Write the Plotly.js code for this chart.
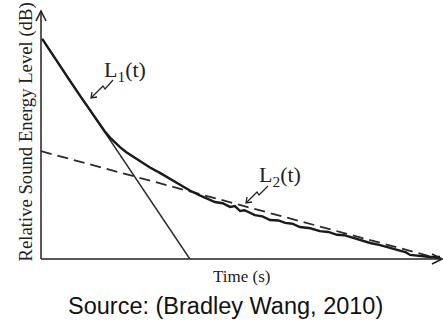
<!DOCTYPE html>
<html>
<head>
<meta charset="utf-8">
<script src="https://cdn.plot.ly/plotly-3.0.1.min.js"></script>
<style>html,body{margin:0;padding:0;background:#fff;}#chart{width:443px;height:322px;}</style>
</head>
<body>
<div id="chart"></div>
<script>
var measuredTime  = [0.03,0.23,0.48,0.73,0.98,1.23,1.48,1.60,1.73,1.85,1.98,2.13,2.31,2.48,2.61,2.73,2.98,3.23,3.48,3.73,3.98,4.20,4.36,4.55,4.74,4.86,4.99,5.10,5.36,5.55,5.74,5.95,6.12,6.30,6.49,6.75,6.99,7.20,7.42,7.60,7.74,7.99,8.25,8.50,8.75,9.00,9.15,9.25,9.50,9.75,10.0];
var measuredLevel = [53.7,50.7,47.1,43.4,39.8,36.3,32.7,31.1,29.6,28.4,27.3,26.1,24.9,23.8,22.9,22.3,21.0,19.5,18.2,16.7,15.5,14.6,13.9,13.6,12.7,12.9,11.7,11.9,10.7,10.4,9.5,9.4,8.8,8.6,7.8,7.5,6.8,6.6,5.9,5.8,5.4,4.6,3.9,3.4,2.7,2.0,1.6,1.0,0.7,0.5,0.5];
// Early-decay fit L1(t): end points
var l1Time  = [0.03, 3.73];
var l1Level = [53.7, 0.0];
// Late-decay fit L2(t): end points
var l2Time  = [0.0, 10.0];
var l2Level = [26.3, 0.0];
// Text labels
var yTitle = "Relative Sound Energy Level (dB)";
var xTitle = "Time (s)";
var sourceText = "Source: (Bradley Wang, 2010)";
var l1Label = "L<sub>1</sub>(t)";
var l2Label = "L<sub>2</sub>(t)";

// plot area geometry in pixels (decoration helpers)
var L = 41, R = 440, T = 13, B = 259;
function px(p){ return (p - L) / (R - L); }
function py(p){ return (B - p) / (B - T); }
function path(pts){
  return pts.map(function(p,i){ return (i ? 'L' : 'M') + px(p[0]).toFixed(4) + ',' + py(p[1]).toFixed(4); }).join(' ');
}

var traces = [
  {x: l2Time, y: l2Level, mode: 'lines', line: {color: '#2b2b2b', width: 1.8, dash: '11px,6px'}, hoverinfo: 'skip'},
  {x: l1Time, y: l1Level, mode: 'lines', line: {color: '#2b2b2b', width: 1.5}, hoverinfo: 'skip'},
  {x: measuredTime, y: measuredLevel, mode: 'lines', line: {color: '#1a1a1a', width: 2.4}, hoverinfo: 'skip'}
];

var serif = 'Liberation Serif, Times New Roman, serif';
var lineStyle = {color: '#222', width: 1.3};
var shapes = [
  // axes and arrow heads
  {type: 'line', xref: 'paper', yref: 'paper', x0: px(41), y0: py(259), x1: px(441), y1: py(259), line: {color: '#222', width: 1.5}},
  {type: 'line', xref: 'paper', yref: 'paper', x0: px(41), y0: py(259), x1: px(41), y1: py(11), line: {color: '#222', width: 1.5}},
  {type: 'path', xref: 'paper', yref: 'paper', path: path([[36,21],[41,11],[46,21]]), line: {color: '#222', width: 1.6}},
  {type: 'path', xref: 'paper', yref: 'paper', path: path([[432,254],[442,259],[432,264]]), line: {color: '#222', width: 1.6}},
  // pointer squiggles
  {type: 'path', xref: 'paper', yref: 'paper', path: path([[113,80],[105,89],[103,86],[92,97]]), line: lineStyle},
  {type: 'path', xref: 'paper', yref: 'paper', path: path([[92,92],[91,98],[97,97]]), line: lineStyle},
  {type: 'path', xref: 'paper', yref: 'paper', path: path([[268,186],[259,195],[257,192],[247,202]]), line: lineStyle},
  {type: 'path', xref: 'paper', yref: 'paper', path: path([[247,197],[246,203],[252,202]]), line: lineStyle}
];

var annotations = [
  {xref: 'paper', yref: 'paper', x: px(25), y: py(132.5), text: yTitle, textangle: -90, showarrow: false,
   font: {family: serif, size: 18.7, color: '#222'}, xanchor: 'center', yanchor: 'middle'},
  {xref: 'paper', yref: 'paper', x: px(241), y: py(276), text: xTitle, showarrow: false,
   font: {family: serif, size: 17, color: '#222'}, xanchor: 'center', yanchor: 'middle'},
  {xref: 'paper', yref: 'paper', x: px(225.5), y: py(306), text: sourceText, showarrow: false,
   font: {family: 'Liberation Sans, Arial, sans-serif', size: 23.5, color: '#111'}, xanchor: 'center', yanchor: 'middle'},
  {xref: 'paper', yref: 'paper', x: px(102), y: py(71), text: l1Label, showarrow: false,
   font: {family: serif, size: 22, color: '#222'}, xanchor: 'left', yanchor: 'middle'},
  {xref: 'paper', yref: 'paper', x: px(257), y: py(176), text: l2Label, showarrow: false,
   font: {family: serif, size: 22, color: '#222'}, xanchor: 'left', yanchor: 'middle'}
];

var layout = {
  width: 443, height: 322,
  margin: {l: L, r: 443 - R, t: T, b: 322 - B},
  paper_bgcolor: '#fff', plot_bgcolor: '#fff',
  showlegend: false,
  xaxis: {range: [0, 10], showline: false, showgrid: false, zeroline: false, showticklabels: false, ticks: ''},
  yaxis: {range: [0, 60], showline: false, showgrid: false, zeroline: false, showticklabels: false, ticks: ''},
  shapes: shapes,
  annotations: annotations
};

Plotly.newPlot('chart', traces, layout, {staticPlot: true, displayModeBar: false});
</script>
</body>
</html>
